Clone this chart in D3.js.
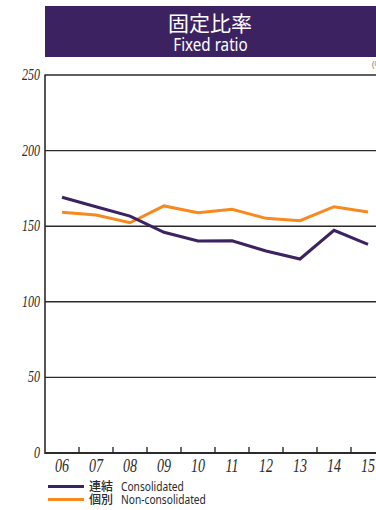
<!DOCTYPE html>
<html>
<head>
<meta charset="utf-8">
<script src="https://cdn.jsdelivr.net/npm/d3@7/dist/d3.min.js"></script>
<style>
  html, body { margin: 0; padding: 0; background: #fff; }
  svg { display: block; }
</style>
</head>
<body>
<svg id="chart" width="376" height="510"></svg>
<script>
// Fiscal years and fixed-ratio values (%)
const years = ["06", "07", "08", "09", "10", "11", "12", "13", "14", "15"];
const consolidated = [169.1, 162.9, 156.7, 146.0, 140.2, 140.4, 133.6, 128.3, 147.3, 138.0];
const nonConsolidated = [159.2, 157.4, 152.3, 163.4, 158.9, 161.2, 155.2, 153.6, 162.9, 159.4];
const yTicks = [0, 50, 100, 150, 200, 250];

const purple = "#3c2260";
const orange = "#f7891f";
const gridColor = "#2b2b2b";
const textColor = "#2a2a2a";

const svg = d3.select("#chart");

// Places a horizontally condensed text at (px, py)
function narrowText(sel, px, py, sx) {
  return sel.attr("transform", `translate(${px},${py}) scale(${sx},1)`);
}

// Header banner
svg.append("rect")
  .attr("x", 45).attr("y", 6).attr("width", 340).attr("height", 51)
  .attr("fill", purple);
narrowText(svg.append("text"), 210, 31, 1)
  .attr("text-anchor", "middle")
  .attr("fill", "#fff")
  .attr("font-family", "'Noto Sans CJK JP', sans-serif")
  .attr("font-weight", 400)
  .attr("font-size", 21)
  .text("固定比率");
narrowText(svg.append("text"), 210.5, 51, 0.8)
  .attr("text-anchor", "middle")
  .attr("fill", "#fff")
  .attr("font-family", "'Noto Sans', sans-serif")
  .attr("font-size", 19)
  .text("Fixed ratio");

// Unit label at the top right
svg.append("text")
  .attr("x", 372).attr("y", 68)
  .attr("fill", "#777")
  .attr("font-family", "'Noto Sans', sans-serif")
  .attr("font-size", 8)
  .text("(%)");

// Scales
const x = d3.scaleBand().domain(years).range([45, 385]);
const y = d3.scaleLinear().domain([0, 250]).range([453, 75]);

// Horizontal gridlines
svg.append("g")
  .selectAll("line")
  .data(yTicks.filter(d => d > 0))
  .join("line")
  .attr("x1", 45).attr("x2", 376)
  .attr("y1", d => y(d)).attr("y2", d => y(d))
  .attr("stroke", gridColor)
  .attr("stroke-width", 1.4);

// Y tick labels
svg.append("g")
  .selectAll("text")
  .data(yTicks)
  .join("text")
  .attr("transform", d => `translate(40,${y(d) + 5}) scale(0.75,1)`)
  .attr("text-anchor", "end")
  .attr("fill", textColor)
  .attr("font-family", "'Liberation Serif', serif")
  .attr("font-style", "italic")
  .attr("font-size", 16)
  .text(d => d);

// Left axis line
svg.append("line")
  .attr("x1", 45).attr("x2", 45)
  .attr("y1", y(250) - 0.5).attr("y2", y(0) + 1)
  .attr("stroke", gridColor).attr("stroke-width", 1.6);

// Bottom axis with ticks at band boundaries
const xAxis = svg.append("g").attr("transform", `translate(0,${y(0)})`);
xAxis.append("line")
  .attr("x1", 45).attr("x2", 376)
  .attr("stroke", gridColor).attr("stroke-width", 2);
xAxis.selectAll("line.tick")
  .data(years.slice(1))
  .join("line")
  .attr("class", "tick")
  .attr("x1", d => x(d)).attr("x2", d => x(d))
  .attr("y1", 0).attr("y2", -6)
  .attr("stroke", gridColor).attr("stroke-width", 1.4);
xAxis.selectAll("text")
  .data(years)
  .join("text")
  .attr("transform", d => `translate(${x(d) + x.bandwidth() / 2},19) scale(0.78,1)`)
  .attr("text-anchor", "middle")
  .attr("fill", textColor)
  .attr("font-family", "'Liberation Serif', serif")
  .attr("font-style", "italic")
  .attr("font-size", 18)
  .text(d => d);

// Series lines
const line = d3.line()
  .x((d, i) => x(years[i]) + x.bandwidth() / 2)
  .y(d => y(d));

svg.append("path")
  .datum(nonConsolidated)
  .attr("d", line)
  .attr("fill", "none")
  .attr("stroke", orange)
  .attr("stroke-width", 3)
  .attr("stroke-linejoin", "miter");

svg.append("path")
  .datum(consolidated)
  .attr("d", line)
  .attr("fill", "none")
  .attr("stroke", purple)
  .attr("stroke-width", 3)
  .attr("stroke-linejoin", "miter");

// Legend
const legend = [
  { jp: "連結", en: "Consolidated", color: purple, y: 491 },
  { jp: "個別", en: "Non-consolidated", color: orange, y: 504 }
];
const lg = svg.append("g").selectAll("g").data(legend).join("g");
lg.append("line")
  .attr("x1", 48).attr("x2", 84)
  .attr("y1", d => d.y - 4.5).attr("y2", d => d.y - 4.5)
  .attr("stroke", d => d.color).attr("stroke-width", 3);
lg.append("text")
  .attr("x", 89).attr("y", d => d.y)
  .attr("fill", textColor)
  .attr("font-family", "'Noto Sans CJK JP', sans-serif")
  .attr("font-weight", 500)
  .attr("font-size", 12)
  .text(d => d.jp);
lg.append("text")
  .attr("transform", d => `translate(121,${d.y}) scale(0.85,1)`)
  .attr("fill", textColor)
  .attr("font-family", "'Noto Sans', sans-serif")
  .attr("font-size", 12)
  .text(d => d.en);
</script>
</body>
</html>
